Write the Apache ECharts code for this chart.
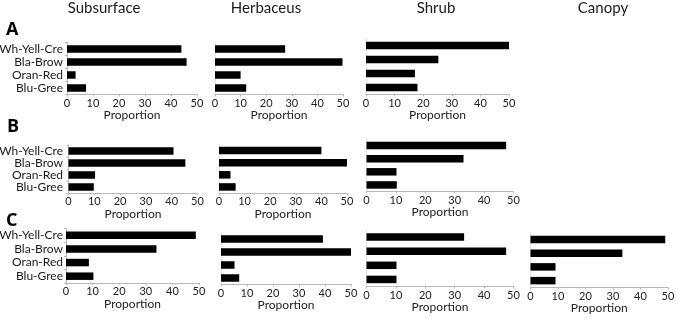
<!DOCTYPE html>
<html>
<head>
<meta charset="utf-8">
<script src="https://cdn.jsdelivr.net/npm/echarts@6/dist/echarts.min.js"></script>
<style>
  html, body { margin: 0; padding: 0; background: #fff; }
  #chart { width: 693px; height: 319px; }
</style>
</head>
<body>
<div id="chart"></div>
<script>
const colors = ["Wh-Yell-Cre", "Bla-Brow", "Oran-Red", "Blu-Gree"];
const ticks = [0, 10, 20, 30, 40, 50];

// proportions
const subsurfaceA = [44, 46, 3.3, 7.3];
const herbaceusA = [27.4, 49.8, 10, 12.2];
const shrubA = [50, 25.3, 17.1, 18];

const subsurfaceB = [40.7, 45.3, 10.3, 9.8];
const herbaceusB = [40, 50, 4.5, 6.5];
const shrubB = [47.5, 33, 10.2, 10.3];

const subsurfaceC = [48.8, 34, 8.6, 10.3];
const herbaceusC = [39.2, 50.3, 5.2, 7];
const shrubC = [33.2, 47.5, 10.2, 10.2];
const canopyC = [49, 33.4, 9.1, 9.1];

// panel boxes in px: left, top, width, height
const panels = [
  { data: subsurfaceA, box: [67, 42.5, 130, 52], labels: true },
  { data: herbaceusA, box: [215, 42.5, 128, 52] },
  { data: shrubA, box: [366, 38.5, 143, 56] },
  { data: subsurfaceB, box: [68.5, 145, 129, 48], labels: true },
  { data: herbaceusB, box: [219, 144.5, 128, 48.5] },
  { data: shrubB, box: [366.5, 139, 147, 52.5] },
  { data: subsurfaceC, box: [66, 228.5, 133, 54.5], labels: true },
  { data: herbaceusC, box: [221, 232.5, 130, 52] },
  { data: shrubC, box: [366.5, 230, 147, 56.5] },
  { data: canopyC, box: [530.5, 232.5, 137.5, 55] }
];

const font = "Lato, 'Open Sans', sans-serif";
const grid = [], xAxis = [], yAxis = [], series = [];

panels.forEach((p, i) => {
  const [left, top, width, height] = p.box;
  grid.push({ left, top, width, height, containLabel: false, outerBoundsMode: "none" });
  xAxis.push({
    gridIndex: i,
    type: "value",
    min: ticks[0],
    max: ticks[ticks.length - 1],
    interval: 10,
    name: "Proportion",
    nameLocation: "middle",
    nameGap: 15,
    nameTextStyle: { fontFamily: font, fontSize: 12, color: "#222" },
    splitLine: { show: false },
    axisLine: { show: true, lineStyle: { color: "#b8b8b8", width: 1 } },
    axisTick: { show: true, length: 2, lineStyle: { color: "#b8b8b8" } },
    axisLabel: { fontFamily: font, fontSize: 11, color: "#222", margin: 3 }
  });
  yAxis.push({
    gridIndex: i,
    type: "category",
    data: colors,
    inverse: true,
    axisLine: { show: true, lineStyle: { color: p.labels ? "#b8b8b8" : "#e4e4e4", width: 1 } },
    axisTick: { show: !!p.labels, length: 2, lineStyle: { color: "#b8b8b8" } },
    axisLabel: {
      show: !!p.labels,
      interval: 0,
      fontFamily: font,
      fontSize: 12,
      color: "#1a1a1a",
      margin: left - 63
    }
  });
  series.push({
    type: "bar",
    xAxisIndex: i,
    yAxisIndex: i,
    data: p.data,
    barWidth: 7.5,
    itemStyle: { color: "#000" },
    silent: true
  });
});

const titleStyle = { fontFamily: font, fontSize: 15, fontWeight: "normal", color: "#1a1a1a" };
const letterStyle = { fontFamily: "'Open Sans', sans-serif", fontSize: 18, fontWeight: "bold", color: "#000" };

const title = [
  { text: "Subsurface", left: 104, top: 1, textAlign: "center", textStyle: titleStyle },
  { text: "Herbaceus", left: 266, top: 1, textAlign: "center", textStyle: titleStyle },
  { text: "Shrub", left: 436, top: 1, textAlign: "center", textStyle: titleStyle },
  { text: "Canopy", left: 603, top: 1, textAlign: "center", textStyle: titleStyle },
  { text: "A", left: 6, top: 21, textStyle: letterStyle },
  { text: "B", left: 7, top: 118, textStyle: letterStyle },
  { text: "C", left: 6, top: 212, textStyle: letterStyle }
].map(t => Object.assign({ padding: 0 }, t));

const chart = echarts.init(document.getElementById("chart"), null, { renderer: "canvas" });
chart.setOption({
  animation: false,
  title,
  grid,
  xAxis,
  yAxis,
  series
});
</script>
</body>
</html>
